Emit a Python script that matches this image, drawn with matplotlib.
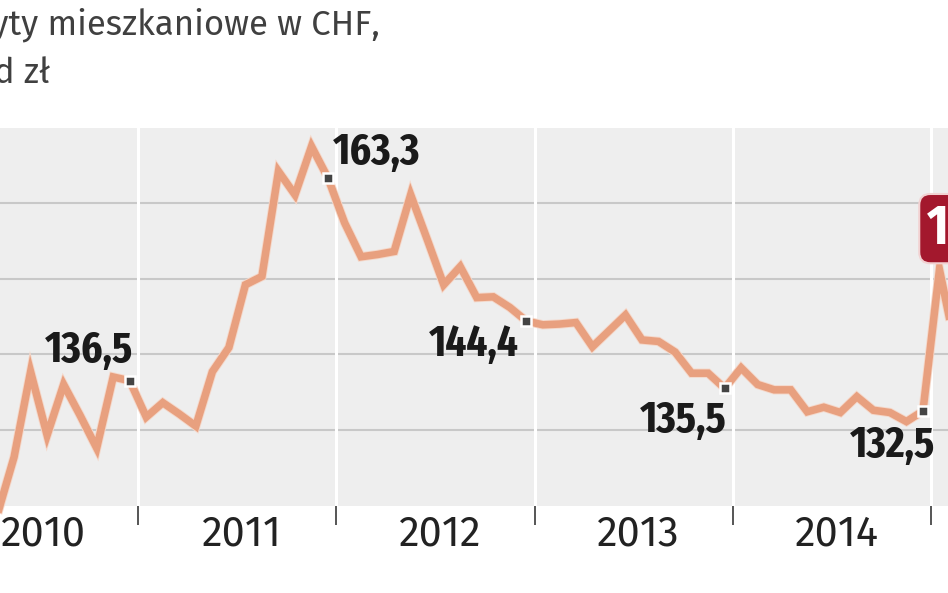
import numpy as np
import matplotlib
matplotlib.use('Agg')
import matplotlib.pyplot as plt
import matplotlib.patheffects as pe
from matplotlib.transforms import blended_transform_factory

# Kredyty mieszkaniowe w CHF, mld zl - monthly (Apr 2010 .. Feb 2015)
years = [2010] * 9 + [2011] * 12 + [2012] * 12 + [2013] * 12 + [2014] * 12 + [2015] * 2
months = list(range(4, 13)) + list(range(1, 13)) * 4 + [1, 2]
values = [
    118.9, 126.4, 137.7, 129.3, 136.0, 131.9, 127.6, 137.0, 136.5,                       # 2010
    131.7, 133.6, 132.1, 130.5, 137.7, 140.9, 149.2, 150.3, 164.2, 161.1, 167.5, 163.3,  # 2011
    157.4, 152.9, 153.2, 153.6, 161.1, 155.2, 149.2, 151.6, 147.5, 147.6, 146.2, 144.4,  # 2012
    143.9, 144.0, 144.2, 141.0, 143.1, 145.2, 141.9, 141.7, 140.3, 137.5, 137.5, 135.5,  # 2013
    138.2, 136.0, 135.3, 135.3, 132.4, 133.0, 132.3, 134.4, 132.6, 132.3, 131.1, 132.5,  # 2014
    151.2, 140.6,                                                                        # 2015
]
year_labels = ['2010', '2011', '2012', '2013', '2014']
# year-end labels (December of each year)
end_labels = ['136,5', '163,3', '144,4', '135,5', '132,5']
last_label = '151,2'
grid_vals = [130, 140, 150, 160]

REG = ['Fira Sans', 'Roboto', 'DejaVu Sans']
BOLD = ['Fira Sans Extra Condensed', 'Fira Sans Condensed', 'Roboto Condensed', 'Roboto', 'DejaVu Sans']

x = np.array(years) + (np.array(months) - 0.5) / 12.0
v = np.array(values)

W, H = 948, 593
fig = plt.figure(figsize=(W / 100, H / 100), dpi=100)
fig.patch.set_facecolor('white')
ax = fig.add_axes([0, (H - 505.5) / H, 1, 378 / H])
ax.set_facecolor('#eeeeee')
ax.set_xlim(2011 - 138 / 198.3, 2011 + 810 / 198.3)
ax.set_ylim(120, 170)
for s in ax.spines.values():
    s.set_visible(False)

for g in grid_vals:
    ax.axhline(g, color='#c8c8c8', lw=1.5, zorder=1)
for yr in range(2011, 2016):
    ax.axvline(yr, color='white', lw=2.2, zorder=1)

ax.set_xticks(range(2011, 2016))
ax.set_xticklabels([])
ax.tick_params(axis='x', which='major', length=14, width=1.4, color='#555555', direction='out')
ax.set_yticks([])

trans = blended_transform_factory(ax.transData, ax.transAxes)
for i, lab in enumerate(year_labels):
    ax.text(2010.5 + i + 0.025, -0.076, lab, transform=trans, ha='center', va='center',
            fontsize=30, family=REG, color='#222222')

ax.plot(x, v, color='#e8a07f', lw=5.4, solid_joinstyle='miter', zorder=3, clip_on=False,
        path_effects=[pe.Stroke(linewidth=6.7, foreground='#f5d8ca'), pe.Normal()])

# December markers + labels
dec = np.where(np.array(months) == 12)[0]
ax.plot(x[dec], v[dec], 's', ms=7, mfc='#444444', mec='white', mew=1.8, zorder=4)
offsets = [(3, 19, 'right'), (5, 14, 'left'), (-8, -35, 'right'), (2, -44, 'right'), (12, -46, 'right')]
for idx, lab, (dx, dy, ha) in zip(dec, end_labels, offsets):
    ax.annotate(lab, (x[idx], v[idx]), xytext=(dx, dy), textcoords='offset pixels',
                ha=ha, va='baseline', fontsize=32, fontweight='bold',
                family=BOLD, color='#1a1a1a', zorder=5)

# highlighted last value
ax.annotate(last_label, (x[-2], v[-2]), xytext=(-13, 41), textcoords='offset pixels',
            ha='left', va='center', fontsize=40, fontweight='bold',
            family=BOLD, color='white', zorder=6, annotation_clip=False,
            bbox=dict(boxstyle='round,pad=0.13,rounding_size=0.2', fc='#a3182d',
                      ec='#f2d2d2', lw=1.5))

# title (cropped on the left in the original)
fig.text(380 / W, 1 - 35 / H, 'Kredyty mieszkaniowe w CHF,', ha='right', va='baseline',
         fontsize=25, family=REG, color='#404040')
fig.text(50 / W, 1 - 83 / H, 'mld zł', ha='right', va='baseline',
         fontsize=25, family=REG, color='#404040')

fig.savefig('out.png', dpi=100)
